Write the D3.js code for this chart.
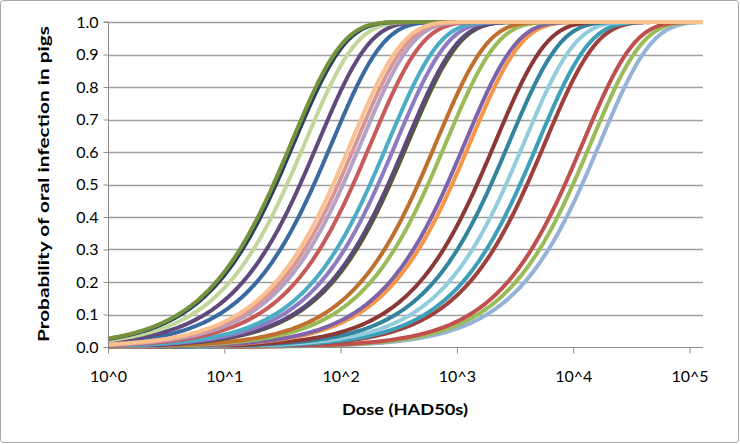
<!DOCTYPE html>
<html>
<head>
<meta charset="utf-8">
<script src="https://cdn.jsdelivr.net/npm/d3@7"></script>
<style>
  html, body { margin: 0; padding: 0; background: #fff; }
  svg { display: block; }
  text { font-family: Lato, "Noto Sans", sans-serif; fill: #000; }
</style>
</head>
<body>
<svg id="chart" width="740" height="444"></svg>
<script>
// ---- data ----
// Median infectious dose (HAD50s) of each dose-response curve (exponential model P = 1 - exp(-r*d), r = ln2 / ID50)
const id50 = [11910, 9950, 8490, 4010, 3490, 2642, 1963, 1489, 908, 822, 564, 463,
  266, 256, 210, 179, 128, 105, 95.1, 59.0, 44.8, 34.6, 27.8, 26.4, 86.1];
const seriesColors = ["#95B3D7", "#9BBB59", "#C0504D", "#A0403C", "#3DA0B8", "#93CDDD", "#31859C", "#8C3836",
  "#F79646", "#7F63A8", "#9BBB59", "#BF6F2E",
  "#4F6228", "#5F497A", "#8E7CC3", "#4BACC6", "#C65B5A", "#B3A2C7", "#D99694", "#3B6AA0",
  "#604A7B", "#C3D69B", "#254061", "#76923C", "#FAC090"];
const xTickExponents = [0, 1, 2, 3, 4, 5];
const xTickLabels = ["10^0", "10^1", "10^2", "10^3", "10^4", "10^5"];
const yTicks = [0, 0.1, 0.2, 0.3, 0.4, 0.5, 0.6, 0.7, 0.8, 0.9, 1.0];
const xAxisTitle = "Dose (HAD50s)";
const yAxisTitle = "Probability of oral infection in pigs";
const xMaxExponent = 5.116;

// ---- drawing ----
(function () {
const svg = d3.select("#chart");
const pLeft = 108, pRight = 703, pTop = 22, pBottom = 347;

// outer chart border
svg.append("rect").attr("x", 0.5).attr("y", 0.5).attr("width", 738).attr("height", 442)
  .attr("rx", 3).attr("fill", "#fff").attr("stroke", "#a6a6a6").attr("stroke-width", 1);

const x = d3.scaleLog().domain([1, Math.pow(10, xMaxExponent)]).range([pLeft, pRight]);
const y = d3.scaleLinear().domain([0, 1]).range([pBottom, pTop]);

// gridlines
svg.append("g").selectAll("line").data(yTicks.filter(t => t > 0)).join("line")
  .attr("x1", pLeft).attr("x2", pRight)
  .attr("y1", d => Math.round(y(d)) + 0.5).attr("y2", d => Math.round(y(d)) + 0.5)
  .attr("stroke", "#a0a0a0").attr("stroke-width", 1.3);

// curves
const nPts = 400;
const doses = d3.range(nPts + 1).map(i => Math.pow(10, xMaxExponent * i / nPts));
const line = d3.line().x(d => x(d[0])).y(d => y(d[1]));
const curves = id50.map((m, i) => ({
  color: seriesColors[i],
  pts: doses.map(dd => [dd, 1 - Math.exp(-Math.LN2 / m * dd)])
}));
svg.append("g").selectAll("path").data(curves).join("path")
  .attr("d", d => line(d.pts))
  .attr("fill", "none")
  .attr("stroke", d => d.color)
  .attr("stroke-width", 4)
  .attr("stroke-linejoin", "round");

// y axis
const yAxis = d3.axisLeft(y).tickValues(yTicks).tickFormat(d3.format(".1f")).tickSize(5).tickPadding(5);
const gy = svg.append("g").attr("transform", `translate(${pLeft + 0.5},0)`).call(yAxis);
gy.select(".domain").attr("stroke", "#8c8c8c").attr("d", `M-5,${pTop}H0V${pBottom}`);
gy.selectAll(".tick line").attr("stroke", "#8c8c8c");
gy.selectAll(".tick text").attr("font-size", 16).attr("font-family", "Lato, 'Noto Sans', sans-serif").attr("fill", "#000");

// x axis
const xAxis = d3.axisBottom(x).tickValues(xTickExponents.map(e => Math.pow(10, e)))
  .tickFormat((d, i) => xTickLabels[i]).tickSize(6).tickPadding(17);
const gx = svg.append("g").attr("transform", `translate(0,${pBottom + 0.5})`).call(xAxis);
gx.select(".domain").attr("stroke", "#8c8c8c").attr("d", `M${pLeft},0H${pRight}`);
gx.selectAll(".tick line").attr("stroke", "#8c8c8c");
gx.selectAll(".tick text").attr("font-size", 16).attr("font-family", "Lato, 'Noto Sans', sans-serif").attr("fill", "#000");

// titles
svg.append("text").attr("x", 405).attr("y", 408).attr("text-anchor", "middle")
  .attr("dominant-baseline", "central").attr("font-size", 16).attr("font-weight", "bold")
  .attr("textLength", 126).attr("lengthAdjust", "spacingAndGlyphs").text(xAxisTitle);
svg.append("text").attr("transform", "translate(42,184) rotate(-90)").attr("text-anchor", "middle")
  .attr("dominant-baseline", "central").attr("font-size", 16).attr("font-weight", "bold")
  .attr("textLength", 316).attr("lengthAdjust", "spacingAndGlyphs").text(yAxisTitle);
})();
</script>
</body>
</html>
